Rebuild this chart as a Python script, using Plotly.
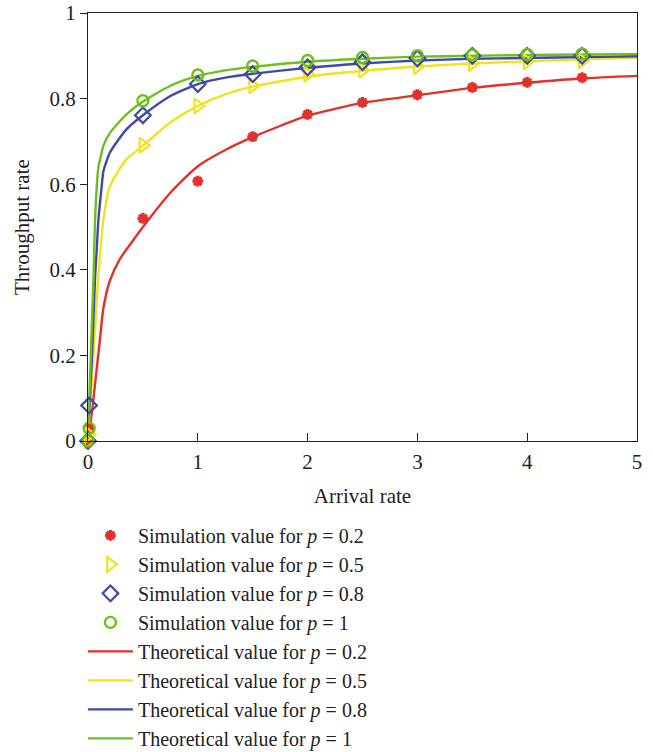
import plotly.graph_objects as go

# Simulation results (arrival rate -> throughput rate)
sim_x = [0, 0.01, 0.5, 1, 1.5, 2, 2.5, 3, 3.5, 4, 4.5]
sim_p02 = [0, 0.028, 0.52, 0.607, 0.711, 0.763, 0.791, 0.809, 0.826, 0.838, 0.849]
sim_p05 = [0, 0.015, 0.691, 0.783, 0.83, 0.857, 0.866, 0.875, 0.882, 0.886, 0.888]
sim_p08 = [0, 0.083, 0.761, 0.834, 0.857, 0.873, 0.885, 0.894, 0.9, 0.9, 0.9]
sim_p1 = [0, 0.03, 0.795, 0.855, 0.876, 0.889, 0.896, 0.9, 0.902, 0.903, 0.904]

# Theoretical curves, sampled along the arrival-rate axis
th_x_p02 = [0, 0.02, 0.05, 0.08, 0.11, 0.14, 0.2, 0.29, 0.4, 0.5, 0.75, 1, 1.25, 1.5, 2, 2.5, 3, 3.5, 4, 4.5, 5]
th_p02 = [0, 0.035, 0.1, 0.17, 0.24, 0.31, 0.375, 0.425, 0.465, 0.5, 0.58, 0.642, 0.68, 0.71, 0.76, 0.79, 0.808, 0.825, 0.837, 0.847, 0.853]

th_x = [0, 0.01, 0.025, 0.036, 0.05, 0.064, 0.08, 0.095, 0.125, 0.14, 0.2, 0.35, 0.5, 0.75, 1, 1.25, 1.5, 2, 2.5, 3, 3.5, 4, 4.5, 5]
th_p05 = [0, 0.04, 0.1, 0.145, 0.2, 0.26, 0.33, 0.39, 0.48, 0.517, 0.596, 0.658, 0.69, 0.744, 0.783, 0.81, 0.828, 0.851, 0.865, 0.875, 0.882, 0.887, 0.892, 0.896]
th_p08 = [0, 0.06, 0.14, 0.2, 0.29, 0.38, 0.45, 0.517, 0.596, 0.63, 0.674, 0.728, 0.761, 0.806, 0.834, 0.849, 0.858, 0.872, 0.882, 0.889, 0.893, 0.895, 0.897, 0.899]
th_p1 = [0, 0.08, 0.2, 0.28, 0.38, 0.517, 0.596, 0.64, 0.674, 0.69, 0.72, 0.763, 0.793, 0.83, 0.853, 0.866, 0.874, 0.886, 0.893, 0.898, 0.9, 0.902, 0.903, 0.904]

p_labels = ["0.2", "0.5", "0.8", "1"]

RED = "#e2302a"
YELLOW = "#f2e21e"
BLUE = "#4048a8"
GREEN = "#6dbf1e"

SERIF = "Liberation Serif, Times New Roman, serif"
FS = 21

fig = go.Figure()

# Theoretical lines (drawn underneath the markers)
line_sets = [
    (th_x_p02, th_p02, RED),
    (th_x, th_p05, YELLOW),
    (th_x, th_p08, BLUE),
    (th_x, th_p1, GREEN),
]
for i, (xs, ys, col) in enumerate(line_sets):
    fig.add_trace(go.Scatter(
        x=xs, y=ys, mode="lines",
        line=dict(color=col, width=2.4, shape="spline", smoothing=0.6),
        name=f"Theoretical value for <i>p</i> = {p_labels[i]}",
        legendrank=10 + i, cliponaxis=False,
    ))

# Simulation markers
marker_sets = [
    (sim_p02, RED, "asterisk-open", 9, 3.2),
    (sim_p05, YELLOW, "triangle-right-open", 13, 2.2),
    (sim_p08, BLUE, "diamond-open", 12, 2.2),
    (sim_p1, GREEN, "circle-open", 11, 2.4),
]
for i, (ys, col, sym, size, lw) in enumerate(marker_sets):
    fig.add_trace(go.Scatter(
        x=sim_x, y=ys, mode="markers",
        marker=dict(symbol=sym, size=size, color=col, line=dict(color=col, width=lw)),
        name=f"Simulation value for <i>p</i> = {p_labels[i]}",
        legendrank=i + 1, cliponaxis=False,
    ))

fig.update_layout(
    width=653, height=752,
    margin=dict(l=88, r=16, t=13, b=311, autoexpand=False),
    paper_bgcolor="white", plot_bgcolor="white",
    font=dict(family=SERIF, size=FS, color="#222"),
    showlegend=True,
    legend=dict(
        xref="container", yref="container",
        x=0.127, y=0.314, xanchor="left", yanchor="top",
        font=dict(family=SERIF, size=20, color="#222"),
        bgcolor="rgba(0,0,0,0)", itemwidth=45, tracegroupgap=0,
    ),
    xaxis=dict(
        range=[0, 5], tickvals=[0, 1, 2, 3, 4, 5],
        showgrid=False, zeroline=False,
        showline=True, linecolor="#222", linewidth=1.3, mirror=True,
        ticks="inside", ticklen=8, tickcolor="#222", tickwidth=1.3,
        ticklabelstandoff=2,
        title=dict(text="Arrival rate", font=dict(size=FS), standoff=14),
        tickfont=dict(size=FS),
    ),
    yaxis=dict(
        range=[0, 1], tickvals=[0, 0.2, 0.4, 0.6, 0.8, 1],
        ticktext=["0", "0.2", "0.4", "0.6", "0.8", "1"],
        showgrid=False, zeroline=False,
        showline=True, linecolor="#222", linewidth=1.3, mirror=True,
        ticks="outside", ticklen=7, tickcolor="#222", tickwidth=1.3,
        tickfont=dict(size=FS),
    ),
    annotations=[dict(
        text="Throughput rate", textangle=-90,
        xref="paper", yref="paper", x=-0.12, y=0.5,
        xanchor="center", yanchor="middle", showarrow=False,
        font=dict(family=SERIF, size=FS, color="#222"),
    )],
)

fig.write_html("out.html")
